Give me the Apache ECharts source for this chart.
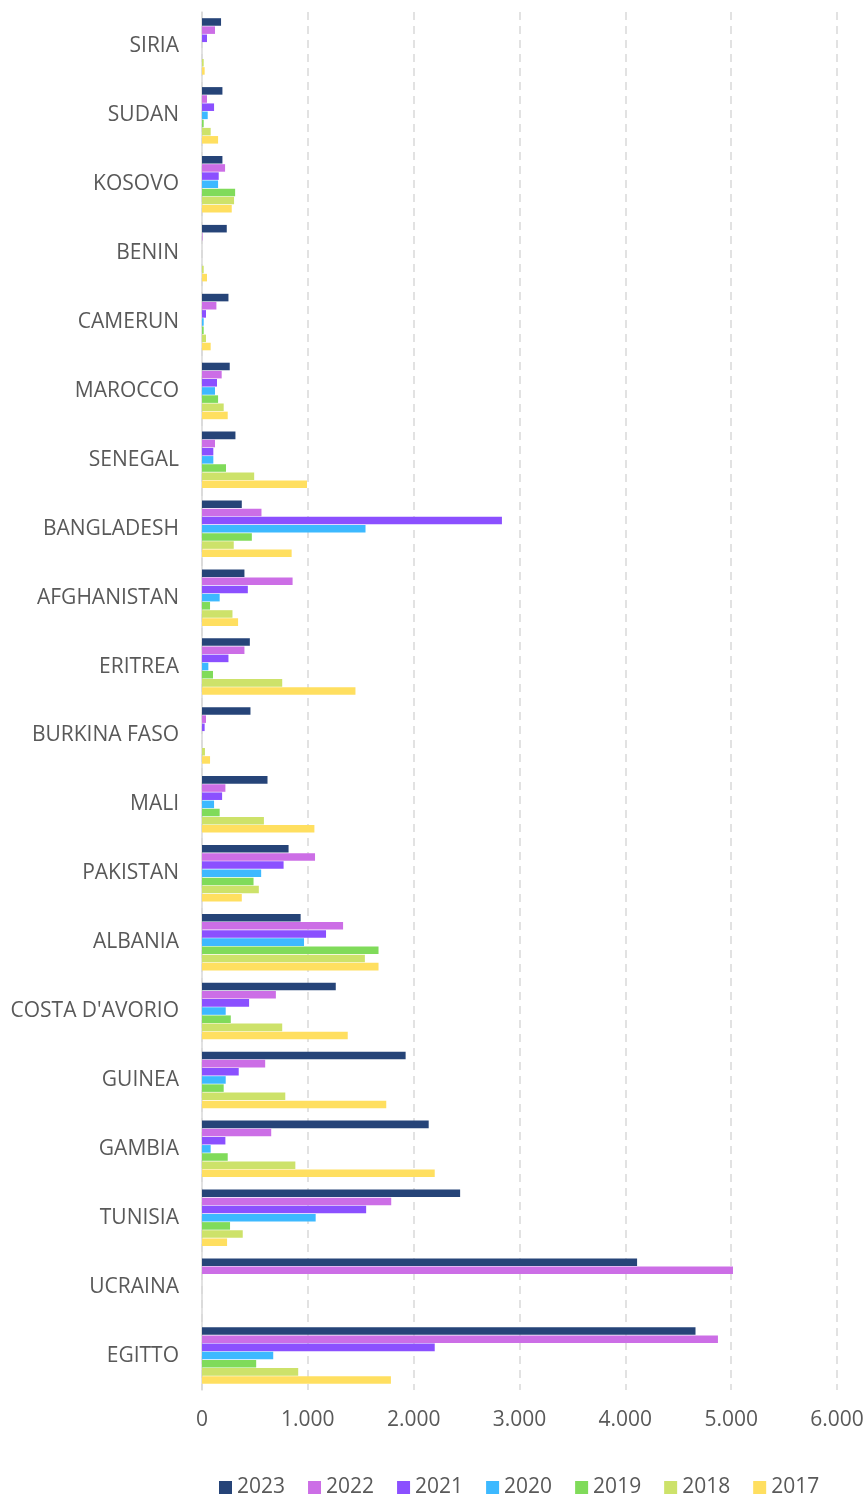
<!DOCTYPE html>
<html>
<head>
<meta charset="utf-8">
<script src="https://cdn.jsdelivr.net/npm/echarts@6/dist/echarts.min.js"></script>
<style>
html,body{margin:0;padding:0;background:#fff;}
#c{width:867px;height:1496px;}
</style>
</head>
<body>
<div id="c"></div>
<script>
const categories = ["SIRIA","SUDAN","KOSOVO","BENIN","CAMERUN","MAROCCO","SENEGAL","BANGLADESH","AFGHANISTAN","ERITREA","BURKINA FASO","MALI","PAKISTAN","ALBANIA","COSTA D'AVORIO","GUINEA","GAMBIA","TUNISIA","UCRAINA","EGITTO"];
const years = ["2023","2022","2021","2020","2019","2018","2017"];
const v2023 = [180,193,193,234,250,262,316,376,401,452,458,619,818,932,1264,1924,2142,2439,4111,4663];
const v2022 = [123,47,218,5,136,186,123,562,856,401,38,221,1068,1333,698,597,654,1788,5017,4875];
const v2021 = [47,114,158,0,38,142,107,2834,433,250,25,190,771,1172,445,347,221,1551,0,2199];
const v2020 = [0,54,152,0,16,123,107,1545,167,60,0,114,559,964,224,224,82,1074,0,673];
const v2019 = [0,16,313,0,16,152,227,471,76,104,0,167,487,1668,272,205,243,265,0,512];
const v2018 = [16,82,303,16,38,205,493,300,288,758,28,585,537,1539,758,787,882,385,0,909];
const v2017 = [25,152,281,47,82,243,992,847,341,1450,76,1062,376,1668,1377,1741,2199,237,0,1785];
const xTicks = [0,1000,2000,3000,4000,5000,6000];
const colors = ["#264478","#CC6EE6","#8B50FF","#3DB9FF","#80DB5A","#CDE26A","#FFDF60"];
const seriesData = [v2023,v2022,v2021,v2020,v2019,v2018,v2017];

const FONT = "'Open Sans', 'Noto Sans', sans-serif";
const chart = echarts.init(document.getElementById('c'), null, {renderer:'canvas'});
chart.setOption({
  animation:false,
  backgroundColor:'#ffffff',
  grid:{left:202,right:30,top:12,bottom:106,containLabel:false},
  legend:{
    data:years,
    top:1472,
    left:214,
    itemWidth:13,itemHeight:13,itemGap:23,
    icon:'rect',
    textStyle:{fontFamily:FONT,fontSize:21,color:'#595959'}
  },
  xAxis:{
    type:'value',min:xTicks[0],max:xTicks[xTicks.length-1],interval:1000,
    axisLine:{show:false},axisTick:{show:false},
    splitLine:{show:true,lineStyle:{color:'#D9D9D9',type:[8,6],width:1.5}},
    axisLabel:{fontFamily:FONT,fontSize:21,color:'#595959',margin:20,
      formatter:function(v){return v===0?'0':(v/1000)+'.000';}}
  },
  yAxis:{
    type:'category',data:categories,inverse:true,
    axisLine:{show:true,lineStyle:{color:'#D9D9D9',width:1.5}},
    axisTick:{show:false},
    axisLabel:{fontFamily:FONT,fontSize:21,color:'#595959',margin:23,padding:[3,0,0,0]}
  },
  series:years.map(function(y,i){
    return {name:y,type:'bar',data:seriesData[i],
      itemStyle:{color:colors[i]},
      barGap:'8%',barCategoryGap:'18%'};
  })
});
</script>
</body>
</html>
